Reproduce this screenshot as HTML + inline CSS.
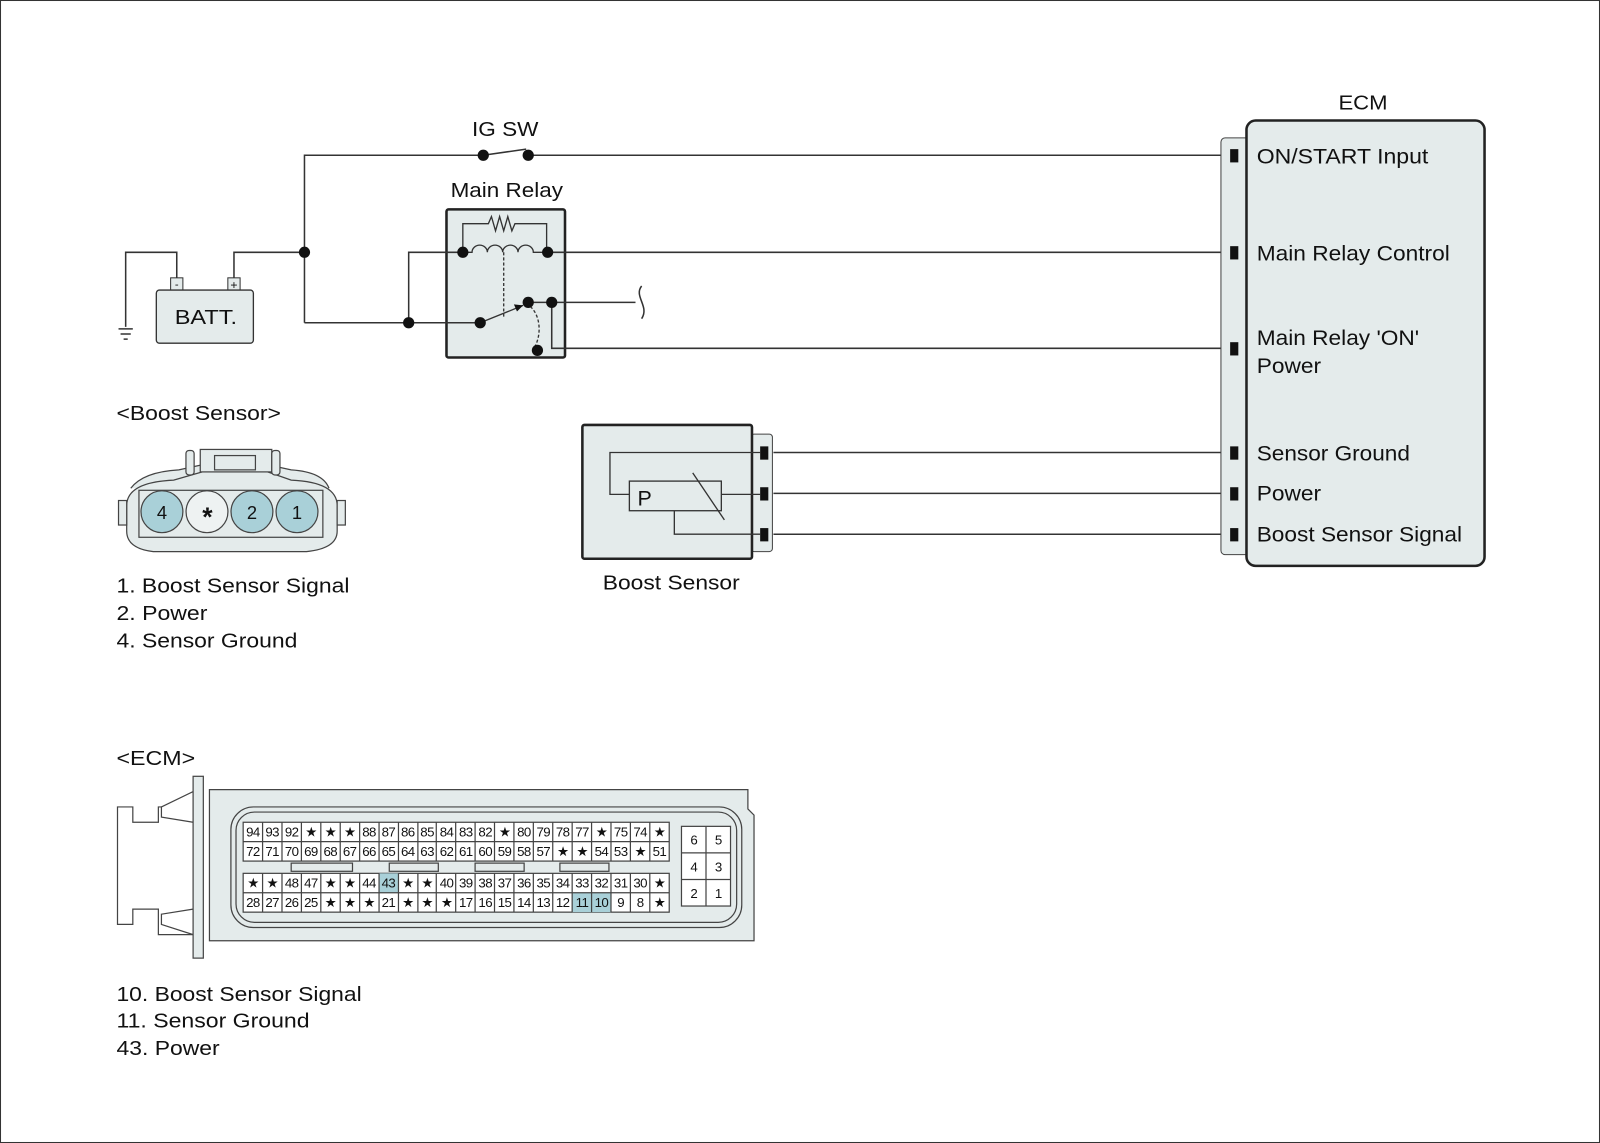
<!DOCTYPE html>
<html><head><meta charset="utf-8"><style>
html,body{margin:0;padding:0;background:#fff;}
svg{display:block;}
text{font-family:"Liberation Sans",Arial,sans-serif;fill:#111;}
</style></head><body>
<svg width="1600" height="1143" viewBox="0 0 1566 1119" preserveAspectRatio="none" xmlns="http://www.w3.org/2000/svg">
<rect x="0.5" y="0.5" width="1565" height="1118" fill="#fff" stroke="#333" stroke-width="1"/>
<!-- relay box first -->
<rect x="437" y="205" width="116" height="145" rx="2" fill="#e4ebeb" stroke="#222" stroke-width="2.5"/>
<g stroke="#333" stroke-width="1.5" fill="none">
<path d="M298 316 V152 H473 M517 152 H1205"/>
<path d="M473 152 L515 146"/>
<path d="M229 272 V247 H298 M173 272 V247 H123 V320"/>
<path d="M116 322 H130 M118 327 H128 M121 332 H125"/>
<path d="M298 316 H470 M400 316 V247 H453"/>
<path d="M536 247 H1205"/>
<path d="M517 296 H622"/>
<path d="M628 280 C620 290 636 300 628 312"/>
<path d="M540 296 V341 H1205"/>
<path d="M757 443 H1205 M757 483 H1205 M757 523 H1205"/>
</g>
<rect x="167" y="272" width="12" height="12" fill="#e4ebeb" stroke="#333"/>
<rect x="223" y="272" width="12" height="12" fill="#e4ebeb" stroke="#333"/>
<text x="173" y="282" font-size="11" text-anchor="middle">-</text>
<text x="229" y="283" font-size="12" text-anchor="middle">+</text>
<rect x="153" y="284" width="95" height="52" rx="3" fill="#e4ebeb" stroke="#333" stroke-width="1.3"/>
<text x="171" y="317" font-size="20" textLength="61" lengthAdjust="spacingAndGlyphs">BATT.</text>
<g stroke="#333" stroke-width="1.3" fill="none">
<path d="M453 247 V219 H478 L481 212 L485 226 L489 212 L493 226 L497 212 L501 226 L504 219 H535 V247"/>
<path d="M453 247 H462 a7.5 7 0 0 1 15 0 a7.5 7 0 0 1 15 0 a7.5 7 0 0 1 15 0 a7.5 7 0 0 1 15 0 H536"/>
<path d="M493 247 V310" stroke-dasharray="3,2"/>
<path d="M470 316 L512 299"/>
<path d="M519 300 C530 310 530 330 522 342" stroke-dasharray="3,2"/>
</g>
<path d="M512 299 L503 298 L506 305 Z" fill="#111"/>
<g fill="#111">
<circle cx="298" cy="247" r="5.5"/><circle cx="400" cy="316" r="5.5"/>
<circle cx="473" cy="152" r="5.5"/><circle cx="517" cy="152" r="5.5"/>
<circle cx="453" cy="247" r="5.5"/><circle cx="536" cy="247" r="5.5"/>
<circle cx="470" cy="316" r="5.5"/><circle cx="517" cy="296" r="5.5"/>
<circle cx="540" cy="296" r="5.5"/><circle cx="526" cy="343" r="5.5"/>
</g>
<text x="462" y="133" font-size="20" textLength="65" lengthAdjust="spacingAndGlyphs">IG SW</text>
<text x="441" y="193" font-size="20" textLength="110" lengthAdjust="spacingAndGlyphs">Main Relay</text>
<!-- ECM block -->
<rect x="1195" y="135" width="30" height="408" rx="4" fill="#e4ebeb" stroke="#444"/>
<rect x="1220" y="118" width="233" height="436" rx="9" fill="#e4ebeb" stroke="#222" stroke-width="2.5"/>
<g fill="#111">
<rect x="1204" y="146" width="8" height="13"/><rect x="1204" y="241" width="8" height="13"/>
<rect x="1204" y="335" width="8" height="13"/><rect x="1204" y="437" width="8" height="13"/>
<rect x="1204" y="477" width="8" height="13"/><rect x="1204" y="517" width="8" height="13"/>
</g>
<text x="1310" y="107" font-size="20" textLength="48" lengthAdjust="spacingAndGlyphs">ECM</text>
<g font-size="21" lengthAdjust="spacingAndGlyphs">
<text x="1230" y="160" textLength="168" lengthAdjust="spacingAndGlyphs">ON/START Input</text>
<text x="1230" y="255" textLength="189" lengthAdjust="spacingAndGlyphs">Main Relay Control</text>
<text x="1230" y="338" textLength="159" lengthAdjust="spacingAndGlyphs">Main Relay 'ON'</text>
<text x="1230" y="365" textLength="63" lengthAdjust="spacingAndGlyphs">Power</text>
<text x="1230" y="451" textLength="150" lengthAdjust="spacingAndGlyphs">Sensor Ground</text>
<text x="1230" y="490" textLength="63" lengthAdjust="spacingAndGlyphs">Power</text>
<text x="1230" y="530" textLength="201" lengthAdjust="spacingAndGlyphs">Boost Sensor Signal</text>
</g>
<!-- boost sensor -->
<rect x="735" y="425" width="21" height="115" rx="3" fill="#e4ebeb" stroke="#444"/>
<rect x="570" y="416" width="166" height="131" rx="2" fill="#e4ebeb" stroke="#222" stroke-width="2.5"/>
<g fill="#111"><rect x="744" y="437" width="8" height="13"/><rect x="744" y="477" width="8" height="13"/><rect x="744" y="517" width="8" height="13"/></g>
<g stroke="#333" stroke-width="1.3" fill="none">
<path d="M744 443 H597 V484 H616 M706 484 H744 M660 499 V523 H744"/>
<rect x="616" y="471" width="90" height="29" fill="#e4ebeb"/>
<path d="M678 463 L709 509"/>
</g>
<text x="624" y="495" font-size="21">P</text>
<text x="590" y="577" font-size="20" textLength="134" lengthAdjust="spacingAndGlyphs">Boost Sensor</text>
<!-- boost connector -->
<text x="114" y="411" font-size="20" textLength="161" lengthAdjust="spacingAndGlyphs">&lt;Boost Sensor&gt;</text>
<g stroke="#444" stroke-width="1.2" fill="#e4ebeb">
<path d="M128 478 Q140 462 175 460 L198 455 H262 L285 460 Q316 462 322 478"/>
<path d="M124 495 Q124 472 170 470 L198 462 H262 L285 470 Q330 472 330 495 V520 Q330 537 300 540 H150 Q124 537 124 520 Z"/>
<rect x="116" y="490" width="8" height="24"/><rect x="330" y="490" width="8" height="24"/>
<rect x="196" y="440" width="70" height="22"/>
<rect x="210" y="446" width="40" height="14"/>
<rect x="182" y="441" width="8" height="24" rx="3"/><rect x="266" y="441" width="8" height="24" rx="3"/>
<rect x="136" y="480" width="180" height="46" fill="none"/>
<circle cx="158.5" cy="501" r="20.5" fill="#a9d0d8"/>
<circle cx="202.6" cy="501" r="20.5" fill="#eef2f2"/>
<circle cx="246.6" cy="501" r="20.5" fill="#a9d0d8"/>
<circle cx="290.7" cy="501" r="20.5" fill="#a9d0d8"/>
</g>
<g font-size="18" text-anchor="middle">
<text x="158.5" y="508">4</text><text x="203" y="515" font-size="26" font-weight="bold">*</text>
<text x="246.6" y="508">2</text><text x="290.7" y="508">1</text>
</g>
<g font-size="20">
<text x="114" y="580" textLength="228" lengthAdjust="spacingAndGlyphs">1. Boost Sensor Signal</text>
<text x="114" y="607" textLength="89" lengthAdjust="spacingAndGlyphs">2. Power</text>
<text x="114" y="634" textLength="177" lengthAdjust="spacingAndGlyphs">4. Sensor Ground</text>
</g>
<!-- ECM connector -->
<text x="114" y="749" font-size="20" textLength="77" lengthAdjust="spacingAndGlyphs">&lt;ECM&gt;</text>
<g stroke="#444" stroke-width="1.2" fill="#e4ebeb">
<path d="M115 790 H130 V805 H155 V790 H189 V915 H155 V890 H130 V905 H115 Z" fill="#fff"/>
<path d="M158 790 L189 775 V805 L158 800 Z M158 895 L189 890 V915 L158 905 Z" fill="#fff"/>
<rect x="189" y="760" width="10" height="178"/>
<path d="M205 773 H732 V792 L738 798 V921 H205 Z"/>
<rect x="226" y="790" width="500" height="118" rx="22" fill="none"/>
<rect x="231" y="795" width="490" height="108" rx="18" fill="none"/>
<rect x="238" y="805" width="417" height="38" fill="#fff"/>
<rect x="238" y="855" width="417" height="38" fill="#fff"/>
<rect x="371" y="855" width="19" height="19" fill="#a9d0d8" stroke="none"/>
<rect x="560" y="874" width="38" height="19" fill="#a9d0d8" stroke="none"/>
<path d="M238 824 H655 M238 874 H655 M257 805 V843 M276 805 V843 M295 805 V843 M314 805 V843 M333 805 V843 M352 805 V843 M371 805 V843 M390 805 V843 M409 805 V843 M427 805 V843 M446 805 V843 M465 805 V843 M484 805 V843 M503 805 V843 M522 805 V843 M541 805 V843 M560 805 V843 M579 805 V843 M598 805 V843 M617 805 V843 M636 805 V843 M257 855 V893 M276 855 V893 M295 855 V893 M314 855 V893 M333 855 V893 M352 855 V893 M371 855 V893 M390 855 V893 M409 855 V893 M427 855 V893 M446 855 V893 M465 855 V893 M484 855 V893 M503 855 V893 M522 855 V893 M541 855 V893 M560 855 V893 M579 855 V893 M598 855 V893 M617 855 V893 M636 855 V893" fill="none"/>
<rect x="285" y="845" width="60" height="8"/><rect x="381" y="845" width="48" height="8"/>
<rect x="465" y="845" width="48" height="8"/><rect x="548" y="845" width="48" height="8"/>
<rect x="667" y="809" width="48" height="78" fill="#fff"/>
<path d="M691 809 V887 M667 835 H715 M667 861 H715" fill="none"/>
</g>
<g font-size="13" text-anchor="middle" letter-spacing="-0.6">
<text x="247.5" y="819">94</text><text x="266.4" y="819">93</text><text x="285.4" y="819">92</text><text x="304.3" y="819">★</text><text x="323.3" y="819">★</text><text x="342.2" y="819">★</text><text x="361.2" y="819">88</text><text x="380.1" y="819">87</text><text x="399.1" y="819">86</text><text x="418" y="819">85</text><text x="437" y="819">84</text><text x="455.9" y="819">83</text><text x="474.9" y="819">82</text><text x="493.8" y="819">★</text><text x="512.8" y="819">80</text><text x="531.7" y="819">79</text><text x="550.7" y="819">78</text><text x="569.6" y="819">77</text><text x="588.6" y="819">★</text><text x="607.5" y="819">75</text><text x="626.5" y="819">74</text><text x="645.4" y="819">★</text>
<text x="247.5" y="838">72</text><text x="266.4" y="838">71</text><text x="285.4" y="838">70</text><text x="304.3" y="838">69</text><text x="323.3" y="838">68</text><text x="342.2" y="838">67</text><text x="361.2" y="838">66</text><text x="380.1" y="838">65</text><text x="399.1" y="838">64</text><text x="418" y="838">63</text><text x="437" y="838">62</text><text x="455.9" y="838">61</text><text x="474.9" y="838">60</text><text x="493.8" y="838">59</text><text x="512.8" y="838">58</text><text x="531.7" y="838">57</text><text x="550.7" y="838">★</text><text x="569.6" y="838">★</text><text x="588.6" y="838">54</text><text x="607.5" y="838">53</text><text x="626.5" y="838">★</text><text x="645.4" y="838">51</text>
<text x="247.5" y="869">★</text><text x="266.4" y="869">★</text><text x="285.4" y="869">48</text><text x="304.3" y="869">47</text><text x="323.3" y="869">★</text><text x="342.2" y="869">★</text><text x="361.2" y="869">44</text><text x="380.1" y="869">43</text><text x="399.1" y="869">★</text><text x="418" y="869">★</text><text x="437" y="869">40</text><text x="455.9" y="869">39</text><text x="474.9" y="869">38</text><text x="493.8" y="869">37</text><text x="512.8" y="869">36</text><text x="531.7" y="869">35</text><text x="550.7" y="869">34</text><text x="569.6" y="869">33</text><text x="588.6" y="869">32</text><text x="607.5" y="869">31</text><text x="626.5" y="869">30</text><text x="645.4" y="869">★</text>
<text x="247.5" y="888">28</text><text x="266.4" y="888">27</text><text x="285.4" y="888">26</text><text x="304.3" y="888">25</text><text x="323.3" y="888">★</text><text x="342.2" y="888">★</text><text x="361.2" y="888">★</text><text x="380.1" y="888">21</text><text x="399.1" y="888">★</text><text x="418" y="888">★</text><text x="437" y="888">★</text><text x="455.9" y="888">17</text><text x="474.9" y="888">16</text><text x="493.8" y="888">15</text><text x="512.8" y="888">14</text><text x="531.7" y="888">13</text><text x="550.7" y="888">12</text><text x="569.6" y="888">11</text><text x="588.6" y="888">10</text><text x="607.5" y="888">9</text><text x="626.5" y="888">8</text><text x="645.4" y="888">★</text>
<text x="679" y="827">6</text><text x="703" y="827">5</text><text x="679" y="853">4</text><text x="703" y="853">3</text><text x="679" y="879">2</text><text x="703" y="879">1</text>
</g>
<g font-size="20">
<text x="114" y="980" textLength="240" lengthAdjust="spacingAndGlyphs">10. Boost Sensor Signal</text>
<text x="114" y="1006" textLength="189" lengthAdjust="spacingAndGlyphs">11. Sensor Ground</text>
<text x="114" y="1033" textLength="101" lengthAdjust="spacingAndGlyphs">43. Power</text>
</g>
</svg>
</body></html>
